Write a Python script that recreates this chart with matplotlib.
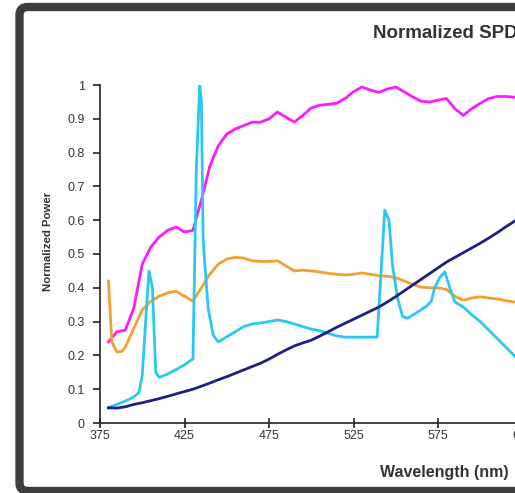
import matplotlib
matplotlib.use("Agg")
import matplotlib.pyplot as plt
from matplotlib.patches import FancyBboxPatch

plt.rcParams['font.family'] = ['Liberation Sans', 'DejaVu Sans']

# ---------------- data ----------------
wl_5nm = list(range(380, 630, 5))

magenta = [0.24, 0.27, 0.275, 0.34, 0.47, 0.52, 0.55, 0.57, 0.58, 0.565,
           0.57, 0.66, 0.76, 0.82, 0.855, 0.87, 0.88, 0.89, 0.89, 0.90,
           0.92, 0.905, 0.89, 0.91, 0.932, 0.94, 0.943, 0.946, 0.96, 0.98,
           0.994, 0.985, 0.978, 0.988, 0.994, 0.98, 0.965, 0.952, 0.95, 0.955,
           0.96, 0.93, 0.91, 0.93, 0.946, 0.96, 0.966, 0.966, 0.964, 0.96]

wl_orange = [380, 382, 385, 388, 390, 395, 400, 405, 410, 415, 420, 425,
             430, 435, 440, 445, 450, 455, 460, 465, 470, 475,
             480, 485, 490, 495, 500, 505, 510, 515, 520, 525,
             530, 535, 540, 545, 550, 555, 560, 565, 570, 575,
             580, 585, 590, 595, 600, 605, 610, 615, 620, 625]
orange = [0.42, 0.24, 0.21, 0.212, 0.225, 0.28, 0.335, 0.36, 0.375, 0.385, 0.39, 0.375,
          0.36, 0.40, 0.44, 0.47, 0.485, 0.49, 0.488, 0.48, 0.478, 0.478,
          0.48, 0.465, 0.45, 0.452, 0.45, 0.447, 0.443, 0.44, 0.438, 0.44,
          0.444, 0.44, 0.436, 0.434, 0.43, 0.42, 0.41, 0.402, 0.40, 0.40,
          0.395, 0.375, 0.363, 0.37, 0.373, 0.37, 0.367, 0.362, 0.358, 0.357]

navy = [0.045, 0.044, 0.048, 0.055, 0.06, 0.066, 0.072, 0.079, 0.086, 0.093,
        0.10, 0.109, 0.118, 0.128, 0.137, 0.147, 0.157, 0.167, 0.177, 0.189,
        0.203, 0.216, 0.228, 0.237, 0.245, 0.257, 0.27, 0.283, 0.295, 0.307,
        0.319, 0.331, 0.343, 0.358, 0.374, 0.391, 0.408, 0.425, 0.442, 0.459,
        0.476, 0.49, 0.504, 0.518, 0.532, 0.547, 0.563, 0.58, 0.596, 0.612]

wl_cyan = [380, 385, 390, 395, 398, 400, 402, 404, 406, 408,
           410, 415, 420, 425, 430, 432, 434, 435, 436, 437,
           439, 442, 445, 450, 455, 460, 465, 470, 475, 480,
           485, 490, 495, 500, 505, 510, 515, 520, 525, 530,
           535, 539, 541, 543.5, 546, 548, 551, 554, 557, 562,
           568, 571, 573, 576, 579, 582, 585, 590, 595, 600,
           605, 610, 615, 620, 625]
cyan = [0.045, 0.055, 0.065, 0.077, 0.09, 0.14, 0.30, 0.45, 0.40, 0.15,
        0.135, 0.145, 0.158, 0.172, 0.19, 0.75, 1.0, 0.95, 0.55, 0.47,
        0.34, 0.26, 0.24, 0.255, 0.27, 0.285, 0.293, 0.296, 0.30, 0.305,
        0.30, 0.293, 0.285, 0.278, 0.273, 0.265, 0.258, 0.254, 0.254, 0.254,
        0.254, 0.254, 0.42, 0.63, 0.60, 0.47, 0.37, 0.315, 0.31, 0.325,
        0.345, 0.36, 0.40, 0.43, 0.447, 0.40, 0.358, 0.343, 0.32, 0.30,
        0.275, 0.25, 0.225, 0.20, 0.175]

x_ticks = [375, 425, 475, 525, 575, 625, 675, 725, 775]
y_ticks = [0, 0.1, 0.2, 0.3, 0.4, 0.5, 0.6, 0.7, 0.8, 0.9, 1.0]
y_tick_labels = ['0', '0.1', '0.2', '0.3', '0.4', '0.5', '0.6', '0.7', '0.8', '0.9', '1']

title_text = 'Normalized SPDs'
xlabel_text = 'Wavelength (nm)'
ylabel_text = 'Normalized Power'

# ---------------- figure ----------------
W, H = 515, 493
DPI = 100
fig = plt.figure(figsize=(W / DPI, H / DPI), dpi=DPI)
fig.patch.set_facecolor('white')

# dark rounded frame (extends beyond the right edge like a cropped chart)
frame = FancyBboxPatch((19.5 / DPI, 2.0 / DPI), 6.0, (H - 7 - 2) / DPI,
                       boxstyle="round,pad=0,rounding_size=0.08",
                       transform=fig.dpi_scale_trans,
                       facecolor='none', edgecolor='#3d3d3d',
                       linewidth=6.0, zorder=-5)
fig.patches.append(frame)

# axes: left spine at x=100px, y=0 at 423px, y=1 at 85px; 1.69 px per nm
x_left, y0_px, y1_px = 100, 423, 85
px_per_nm = 1.69
xmin, xmax = 375, 775
ax_w = (xmax - xmin) * px_per_nm
ax = fig.add_axes([x_left / W, (H - y0_px) / H, ax_w / W, (y0_px - y1_px) / H])
ax.set_facecolor('none')
ax.set_zorder(2)

lw = 2.0
ax.plot(wl_5nm, magenta, color='#FF19FF', lw=lw, solid_joinstyle='round', zorder=3)
ax.plot(wl_orange, orange, color='#F4A030', lw=lw, solid_joinstyle='round', zorder=4)
ax.plot(wl_cyan, cyan, color='#28C8F0', lw=lw, solid_joinstyle='round', zorder=5)
ax.plot(wl_5nm, navy, color='#1E1E84', lw=lw, solid_joinstyle='round', zorder=6)

ax.set_xlim(xmin, xmax)
ax.set_ylim(0, 1)

for s in ['top', 'right']:
    ax.spines[s].set_visible(False)
for s in ['left', 'bottom']:
    ax.spines[s].set_color('#222222')
    ax.spines[s].set_linewidth(1.2)

ax.set_xticks(x_ticks)
ax.set_xticklabels([str(t) for t in x_ticks])
ax.set_yticks(y_ticks)
ax.set_yticklabels(y_tick_labels)
ax.tick_params(axis='x', direction='inout', length=7.2, width=1.2, color='#222222',
               labelsize=9, labelcolor='#333333', pad=1.5)
ax.tick_params(axis='y', direction='out', length=5.0, width=1.2, color='#222222',
               labelsize=9, labelcolor='#333333', pad=6.0)

fig.text(373 / W, 1 - 33 / H, title_text, ha='left', va='center',
         fontsize=13.5, fontweight='bold', color='#333333')
fig.text(444 / W, 1 - 472 / H, xlabel_text, ha='center', va='center',
         fontsize=11.5, fontweight='bold', color='#333333')
fig.text(48 / W, 1 - 241 / H, ylabel_text, ha='center', va='center', rotation=90,
         fontsize=8.2, fontweight='bold', color='#333333')

fig.savefig('out.png', dpi=DPI, facecolor='white')
